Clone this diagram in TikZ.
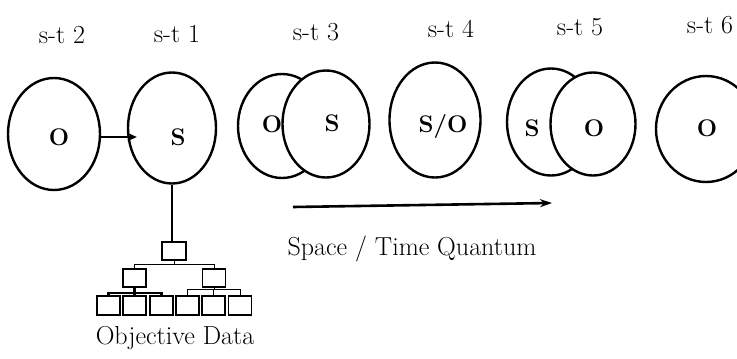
\documentclass[tikz,border=0pt]{standalone}
\usepackage{fontspec}
\usepackage{tikz}
\usetikzlibrary{arrows.meta,positioning,calc,shapes.geometric}

\begin{document}
\begin{tikzpicture}[x=1pt,y=-1pt,
    blob/.style={ellipse,draw,line width=2.4pt,fill=white,minimum width=88pt,minimum height=107pt,inner sep=0pt},
    tag/.style={font=\fontsize{24}{28}\selectfont\bfseries},
    stlabel/.style={anchor=base,font=\fontsize{26}{30}\selectfont},
    box/.style={draw,line width=1.4pt,minimum width=23pt,minimum height=18pt,inner sep=0pt},
    twig/.style={line width=1pt}]
    \useasboundingbox (0,0) rectangle (737,359);
    \clip (0,0) rectangle (737,359);

    % space-time titles
    \node[stlabel] (t2) at (62,43) {s-t 2};
    \node[stlabel] (t1) at (177,42) {s-t 1};
    \node[stlabel] (t3) at (316,40) {s-t 3};
    \node[stlabel] (t4) at (451,37) {s-t 4};
    \node[stlabel] (t5) at (580,35) {s-t 5};
    \node[stlabel] (t6) at (710,33) {s-t 6};

    \node[blob,minimum width=92pt,minimum height=112pt] (st2) at (54,134) {};
    \node[tag] (o2) at (59,137) {O};
    \node[blob,minimum height=111pt] (st1) at (172,128) {};
    \node[tag] (s1) at (178,137) {S};
    \draw[line width=2.4pt,-{Stealth[length=9pt,width=8pt]},shorten >=-10pt] (st2.east |- o2) -- (o2 -| st1.west);

    \node[blob,minimum height=104pt] (st3a) at (282,126) {};
    \node[tag] (o3) at (272,124) {O};
    \node[blob,minimum width=87pt] (st3b) at (326,124) {};
    \node[tag] (s3) at (332,123) {S};

    \node[blob,minimum width=91pt,minimum height=115pt] (st4) at (435,120) {};
    \node[tag] (so4) at (443,126) {S/O};

    \node[blob] (st5a) at (551,122) {};
    \node[tag] (s5) at (532,128) {S};
    \node[blob,minimum width=85pt,minimum height=103pt] (st5b) at (593,124) {};
    \node[tag] (o5) at (594,128) {O};

    \node[blob,minimum width=100pt,minimum height=106pt] (st6) at (706,129) {};
    \node[tag] (o6) at (707,128) {O};

    % objective data tree
    \node[box,minimum width=24pt] (root) at (174,251) {};
    \node[box] (midl) at (134.5,278) {};
    \node[box] (midr) at (214,278) {};
    \foreach \x [count=\i] in {108.5,134.5,161.5}
        \node[box,minimum height=19pt] (leafl\i) at (\x,305.5) {};
    \foreach \x [count=\i] in {187.5,213.5,240}
        \node[box,minimum height=19pt] (leafr\i) at (\x,305.5) {};

    \draw[line width=2pt] (st1.south) -- (st1.south |- root.north);
    \draw[twig] (root.south) -- ++(0,4) -| (midl.north);
    \draw[twig] (root.south) ++(0,4) -| (midr.north);
    \foreach \i in {1,2,3} {
        \draw[line width=2.4pt] (midl.south) -- ++(0,5) -| (leafl\i.north);
        \draw[twig] (midr.south) -- ++(0,2) -| (leafr\i.north);
    }
    \node[stlabel] (objdata) at (175,344) {Objective Data};

    % quantum arrow
    \coordinate (qs) at (293,207);
    \coordinate (qe) at (552,203);
    \draw[line width=2.6pt,-{Stealth[length=12pt,width=8pt]}] (qs) -- (qe);
    \node[stlabel] (quantum) at (412,255) {Space / Time Quantum};
\end{tikzpicture}
\end{document}
